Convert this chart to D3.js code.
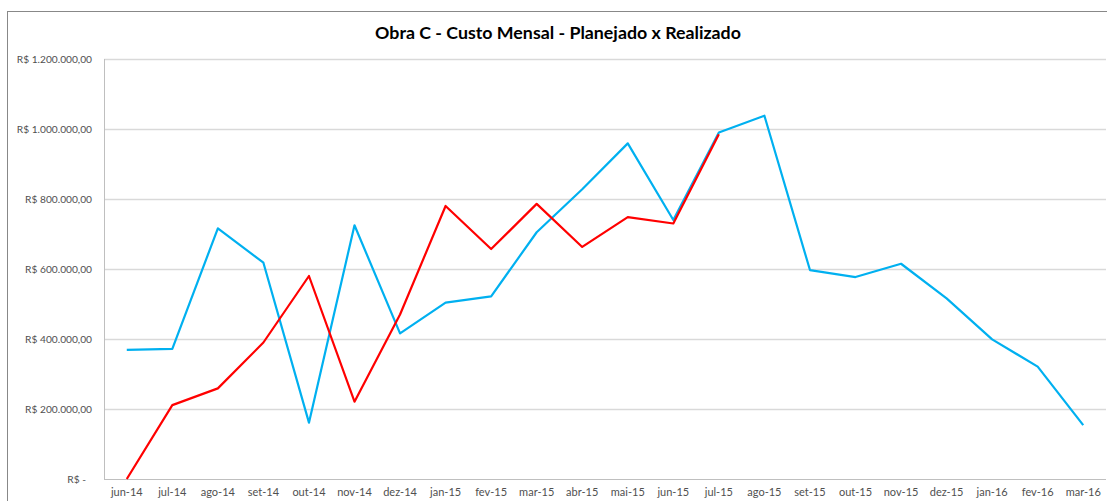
<!DOCTYPE html>
<html>
<head>
<meta charset="utf-8">
<script src="https://cdn.jsdelivr.net/npm/d3@7"></script>
<style>
  body { margin: 0; background: #fff; }
  svg { display: block; font-family: Lato, "Open Sans", sans-serif; }
</style>
</head>
<body>
<div id="chart"></div>
<script>
const MONTHS = ["jun-14","jul-14","ago-14","set-14","out-14","nov-14","dez-14",
  "jan-15","fev-15","mar-15","abr-15","mai-15","jun-15","jul-15","ago-15","set-15",
  "out-15","nov-15","dez-15","jan-16","fev-16","mar-16"];

// planejado (azul)
const PLANEJADO = [369000, 372000, 716000, 618000, 161000, 725000, 416000,
  504000, 522000, 705000, 828000, 959000, 740000, 990000, 1038000, 597000,
  577000, 615000, 516000, 399000, 321000, 154000];

// realizado (vermelho), até jul-15
const REALIZADO = [0, 211000, 259000, 390000, 580000, 221000, 470000,
  780000, 657000, 786000, 663000, 748000, 730000, 985000];

const Y_TICKS = [0, 200000, 400000, 600000, 800000, 1000000, 1200000];

const W = 1107, H = 501;
const margin = { top: 59, right: 1, bottom: 22, left: 104 },
      width = W - margin.left - margin.right,
      height = H - margin.top - margin.bottom;

const root = d3.select("#chart").append("svg")
  .attr("width", W).attr("height", H);

// moldura do gráfico
root.append("rect")
  .attr("x", 7.5).attr("y", 11.5)
  .attr("width", W + 20).attr("height", H + 20)
  .attr("fill", "none").attr("stroke", "#888").attr("stroke-width", 1);

root.append("text")
  .attr("x", 558).attr("y", 39)
  .attr("text-anchor", "middle")
  .style("font-size", "17.8px").style("font-weight", "bold").style("fill", "#000")
  .text("Obra C - Custo Mensal - Planejado x Realizado");

const svg = root.append("g")
  .attr("transform", `translate(${margin.left}, ${margin.top})`);

/* -------------------- SCALES -------------------- */
const x = d3.scaleBand().domain(MONTHS).range([0, width]);
const y = d3.scaleLinear().domain([0, 1200000]).range([height, 0]);

const fmt = v => v === 0 ? "R$ -" :
  "R$ " + d3.format(",.2f")(v).replace(/,/g, "#").replace(".", ",").replace(/#/g, ".");

// grid
svg.append("g")
  .selectAll("line")
  .data(Y_TICKS.filter(d => d > 0))
  .join("line")
  .attr("x1", 0).attr("x2", width)
  .attr("y1", d => y(d) + 0.5).attr("y2", d => y(d) + 0.5)
  .attr("stroke", "#d9d9d9").attr("stroke-width", 1.5);

// eixos
svg.append("line")
  .attr("x1", 0.5).attr("x2", 0.5).attr("y1", 0).attr("y2", height)
  .attr("stroke", "#bfbfbf");
svg.append("line")
  .attr("x1", 0).attr("x2", width).attr("y1", height + 0.5).attr("y2", height + 0.5)
  .attr("stroke", "#bfbfbf");

svg.append("g")
  .selectAll("text")
  .data(Y_TICKS)
  .join("text")
  .attr("x", d => d === 0 ? -18 : -12)
  .attr("y", d => y(d))
  .attr("dy", "0.35em")
  .attr("text-anchor", "end")
  .style("font-size", "10.2px").style("fill", "#505050")
  .text(fmt);

svg.append("g")
  .attr("transform", `translate(0, ${height})`)
  .call(d3.axisBottom(x).tickSize(0).tickPadding(9))
  .call(g => g.select(".domain").remove())
  .selectAll("text")
  .style("font-size", "11px").style("fill", "#505050")
  .style("font-family", "Lato, 'Open Sans', sans-serif");

/* -------------------- LINES -------------------- */
const line = d3.line()
  .x((d, i) => x(MONTHS[i]) + x.bandwidth() / 2)
  .y(d => y(d));

svg.append("path")
  .datum(PLANEJADO)
  .attr("d", line)
  .attr("fill", "none").attr("stroke", "#00b0f0").attr("stroke-width", 2.2)
  .attr("stroke-linejoin", "round");

svg.append("path")
  .datum(REALIZADO)
  .attr("d", line)
  .attr("fill", "none").attr("stroke", "#ff0000").attr("stroke-width", 2.2)
  .attr("stroke-linejoin", "round");
</script>
</body>
</html>
